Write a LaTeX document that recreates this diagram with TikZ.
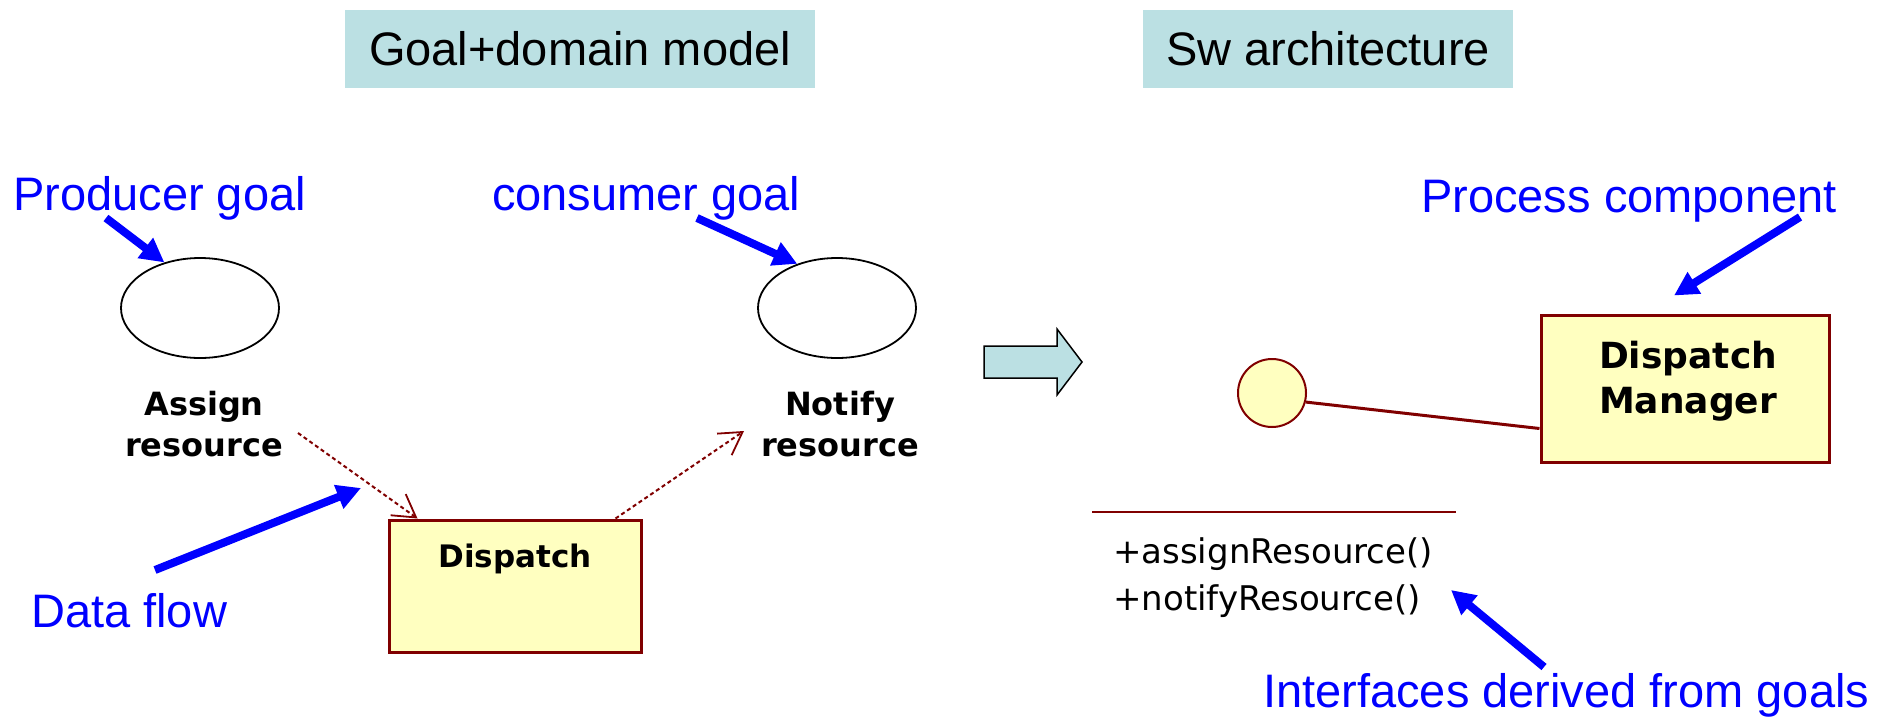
\documentclass[tikz,border=0pt]{standalone}
\usepackage{fontspec}
\setmainfont{Liberation Sans}
\newfontfamily\umlfont{DejaVu Sans}
\usetikzlibrary{arrows.meta,shapes.geometric}
\definecolor{headcyan}{HTML}{BBE0E3}
\definecolor{umlyellow}{HTML}{FFFFC0}
\definecolor{umlred}{HTML}{800000}
\tikzset{
  headbox/.style={fill=headcyan, draw=none, inner sep=0pt, minimum height=78pt, font=\fontsize{47}{56}\selectfont},
  bluelabel/.style={text=blue, inner sep=0pt, anchor=base west, font=\fontsize{47}{56}\selectfont},
  bluearrow/.style={draw=blue, line width=8pt, -{Triangle[length=24pt,width=24pt]}},
  goal/.style={ellipse, draw=black, line width=1.8pt, inner sep=0pt, minimum width=158pt, minimum height=100pt},
  umlname/.style={inner sep=0pt, align=center, font=\umlfont\bfseries\fontsize{32}{41}\selectfont},
  umlbox/.style={draw=umlred, fill=umlyellow, line width=3pt, inner sep=0pt},
  flowarrow/.style={draw=umlred, line width=2pt, dash pattern=on 4pt off 3pt, -{Straight Barb[length=22pt,width=26pt,line width=1.8pt]}},
  optext/.style={inner sep=0pt, anchor=base west, font=\umlfont\fontsize{34}{40}\selectfont},
}
\begin{document}
\begin{tikzpicture}[x=1pt,y=-1pt]
\useasboundingbox (0,0) rectangle (1894,718);
% headings
\node[headbox, minimum width=470pt] (h1) at (580,49) {Goal+domain model};
\node[headbox, minimum width=370pt] (h2) at (1328,49) {Sw architecture};
% goals
\node[goal] (e1) at (200,308) {};
\node[goal] (e2) at (837,308) {};
\node[umlname] (assign) at (204,424) {Assign\\resource};
\node[umlname] (notify) at (840,424) {Notify\\resource};
% dispatch
\node[umlbox, minimum width=252pt, minimum height=132pt] (d1) at (515,586) {};
\node[inner sep=0pt, anchor=base, font=\umlfont\bfseries\fontsize{31}{40}\selectfont] (d1t) at (515,567) {Dispatch};
% data flows
\coordinate (f1s) at (298,433);
\coordinate (f2e) at (744,431);
\draw[flowarrow] (f1s) -- ([xshift=30pt]d1.north west);
\draw[flowarrow] ([xshift=-27pt]d1.north east) -- (f2e);
% blue labels
\node[bluelabel] (lprod) at (13,210) {Producer goal};
\node[bluelabel] (lcons) at (492,210) {consumer goal};
\node[bluelabel] (lflow) at (31,627) {Data flow};
\node[bluelabel] (lproc) at (1421,212) {Process component};
\node[bluelabel] (lint) at (1263,707) {Interfaces derived from goals};
\coordinate (a1s) at (106,218);
\coordinate (a2s) at (697,218);
\coordinate (a3s) at (155,570);
\coordinate (a3e) at (361,488);
\coordinate (a4s) at (1800,217);
\coordinate (a5s) at (1544,667);
\coordinate (a5e) at (1451,590);
\draw[bluearrow] (a1s) -- (e1.128);
\draw[bluearrow] (a2s) -- (e2.132);
\draw[bluearrow] (a3s) -- (a3e);
% transformation arrow
\draw[fill=headcyan, draw=black, line width=1.5pt, line join=miter]
  (984,346) -- (1057,346) -- (1057,329) -- (1082,362) -- (1057,395) -- (1057,378) -- (984,378) -- cycle;
% architecture
\node[circle, draw=umlred, fill=umlyellow, line width=2pt, minimum size=68pt, inner sep=0pt] (c) at (1272,393) {};
\node[umlbox, minimum width=288pt, minimum height=147pt] (dm) at (1685,388.5) {};
\node[umlname, font=\umlfont\bfseries\fontsize{36}{45}\selectfont] (dmt) at (1688,381) {Dispatch\\Manager};
\draw[umlred, line width=3pt] (c.-15) -- ([yshift=-40pt]dm.west);
\draw[bluearrow] (a4s) -- ([xshift=-11pt,yshift=18pt]dm.north);
\draw[umlred, line width=2.5pt] (1092,512) -- (1456,512);
\node[optext] (op1) at (1113,563) {+assignResource()};
\node[optext] (op2) at (1113,610) {+notifyResource()};
\draw[bluearrow] (a5s) -- (a5e);
\end{tikzpicture}
\end{document}
